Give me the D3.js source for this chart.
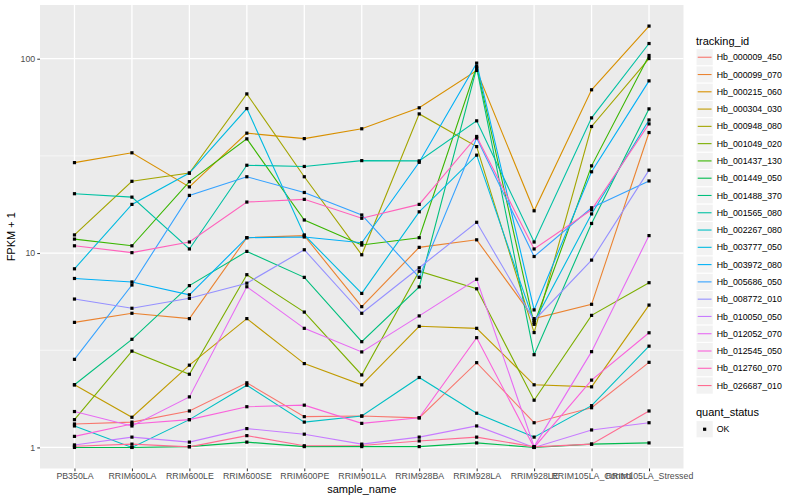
<!DOCTYPE html>
<html>
<head>
<meta charset="utf-8">
<script src="https://cdn.jsdelivr.net/npm/d3@7"></script>
<style>
  body { margin: 0; background: #fff; }
  text { font-family: "Liberation Sans", Arial, sans-serif; }
</style>
</head>
<body>
<svg id="chart" width="800" height="500"></svg>
<script>
'use strict';

var sampleNames = ["PB350LA", "RRIM600LA", "RRIM600LE", "RRIM600SE", "RRIM600PE", "RRIM901LA",
  "RRIM928BA", "RRIM928LA", "RRIM928LE", "RRIM105LA_Control", "RRIM105LA_Stressed"];

var trackingIds = ["Hb_000009_450", "Hb_000099_070", "Hb_000215_060", "Hb_000304_030", "Hb_000948_080",
  "Hb_001049_020", "Hb_001437_130", "Hb_001449_050", "Hb_001488_370", "Hb_001565_080",
  "Hb_002267_080", "Hb_003777_050", "Hb_003972_080", "Hb_005686_050", "Hb_008772_010",
  "Hb_010050_050", "Hb_012052_070", "Hb_012545_050", "Hb_012760_070", "Hb_026687_010"];

// FPKM per sample (plotted as FPKM + 1)
var hb_000009_450 = [0.32, 0.35, 0.54, 1.15, 0.44, 0.45, 0.42, 1.73, 0.34, 0.60, 1.74];
var hb_000099_070 = [3.4, 3.9, 3.6, 11.0, 11.3, 4.3, 9.7, 10.7, 3.6, 4.45, 40.7];
var hb_000215_060 = [28.2, 31.8, 20.9, 40.4, 37.8, 42.6, 54.9, 86.0, 15.5, 68.2, 146.2];
var hb_000304_030 = [1.1, 0.43, 1.65, 3.6, 1.7, 1.1, 3.2, 3.1, 1.1, 1.05, 4.4];
var hb_000948_080 = [11.4, 22.4, 24.8, 64.9, 23.7, 8.8, 51.0, 34.3, 2.9, 43.8, 99.2];
var hb_001049_020 = [0.39, 2.13, 1.38, 6.74, 3.97, 1.36, 7.06, 5.55, 0.75, 3.78, 6.04];
var hb_001437_130 = [10.8, 9.9, 22.3, 37.7, 13.8, 10.0, 11.0, 90.2, 3.3, 27.1, 102.9];
var hb_001449_050 = [0, 0, 0.01, 0.065, 0.01, 0.01, 0.01, 0.055, 0, 0.04, 0.055];
var hb_001488_370 = [1.1, 2.6, 5.8, 9.2, 6.5, 2.5, 5.7, 88.8, 2.0, 13.2, 54.2];
var hb_001565_080 = [19.2, 18.4, 9.5, 27.3, 26.9, 28.9, 28.8, 46.9, 10.4, 48.6, 118.7];
var hb_002267_080 = [0.29, 0.0, 0.39, 1.09, 0.35, 0.45, 1.29, 0.50, 0.13, 0.64, 2.32];
var hb_003777_050 = [7.3, 16.8, 24.8, 54.4, 11.4, 5.2, 15.3, 30.9, 3.4, 14.9, 47.4];
var hb_003972_080 = [6.4, 6.1, 5.1, 11.0, 11.1, 10.3, 28.3, 93.9, 4.1, 25.2, 75.9];
var hb_005686_050 = [1.84, 5.85, 18.8, 23.7, 19.5, 14.7, 6.5, 38.1, 8.6, 16.1, 22.5];
var hb_008772_010 = [4.8, 4.2, 4.85, 6.0, 9.4, 3.9, 7.4, 13.4, 3.5, 8.2, 25.7];
var hb_010050_050 = [0.03, 0.13, 0.065, 0.25, 0.17, 0.04, 0.13, 0.29, 0.0, 0.23, 0.34];
var hb_012052_070 = [0.53, 0.29, 0.82, 5.71, 3.10, 2.10, 3.75, 6.33, 0.01, 2.11, 11.3];
var hb_012545_050 = [0.14, 0.32, 0.39, 0.62, 0.65, 0.33, 0.42, 2.67, 0.0, 1.22, 2.89];
var hb_012760_070 = [9.9, 9.05, 10.4, 17.3, 17.9, 14.1, 16.8, 38.8, 9.5, 15.7, 45.2];
var hb_026687_010 = [0.015, 0.04, 0.007, 0.15, 0.02, 0.024, 0.08, 0.13, 0.007, 0.04, 0.54];

var fpkmValues = [hb_000009_450, hb_000099_070, hb_000215_060, hb_000304_030, hb_000948_080,
  hb_001049_020, hb_001437_130, hb_001449_050, hb_001488_370, hb_001565_080,
  hb_002267_080, hb_003777_050, hb_003972_080, hb_005686_050, hb_008772_010,
  hb_010050_050, hb_012052_070, hb_012545_050, hb_012760_070, hb_026687_010];

var quantStatus = ["OK"];
var yBreaks = [1, 10, 100];
var yMinorBreaks = [Math.pow(10, 0.5), Math.pow(10, 1.5)];

// ggplot hue palette for 20 levels
var hueColors = ["#F8766D", "#EA8331", "#D89000", "#C09B00", "#A3A500", "#7CAE00", "#39B600",
  "#00BB4E", "#00BF7D", "#00C1A3", "#00BFC4", "#00BAE0", "#00B0F6", "#35A2FF", "#9590FF",
  "#C77CFF", "#E76BF3", "#FA62DB", "#FF62BC", "#FF6C91"];

var svg = d3.select('#chart');
var panel = {left: 40, right: 683.5, top: 5, bottom: 468.5};

// build rows from the arrays
var series = trackingIds.map(function (id, i) {
  return {
    id: id,
    color: hueColors[i],
    values: fpkmValues[i].map(function (v, j) { return {sample: sampleNames[j], y: v + 1}; })
  };
});

var x = d3.scalePoint().domain(sampleNames).range([panel.left, panel.right]).padding(0.6);

// log scale with 5% expansion like ggplot
var allY = [];
series.forEach(function (s) { s.values.forEach(function (d) { allY.push(d.y); }); });
var lo = Math.log10(d3.min(allY)), hi = Math.log10(d3.max(allY));
var pad = (hi - lo) * 0.05;
var y = d3.scaleLog().domain([Math.pow(10, lo - pad), Math.pow(10, hi + pad)])
  .range([panel.bottom, panel.top]);

// panel background + grid
svg.append('rect')
  .attr('x', panel.left).attr('y', panel.top)
  .attr('width', panel.right - panel.left).attr('height', panel.bottom - panel.top)
  .attr('fill', '#EBEBEB');

svg.append('g').selectAll('line').data(yMinorBreaks).enter().append('line')
  .attr('x1', panel.left).attr('x2', panel.right)
  .attr('y1', function (d) { return y(d); }).attr('y2', function (d) { return y(d); })
  .attr('stroke', '#fff').attr('stroke-width', 0.6);

svg.append('g').selectAll('line').data(yBreaks).enter().append('line')
  .attr('x1', panel.left).attr('x2', panel.right)
  .attr('y1', function (d) { return y(d); }).attr('y2', function (d) { return y(d); })
  .attr('stroke', '#fff').attr('stroke-width', 1.3);

svg.append('g').selectAll('line').data(sampleNames).enter().append('line')
  .attr('y1', panel.top).attr('y2', panel.bottom)
  .attr('x1', function (d) { return x(d); }).attr('x2', function (d) { return x(d); })
  .attr('stroke', '#fff').attr('stroke-width', 1.3);

// lines
var line = d3.line()
  .x(function (d) { return x(d.sample); })
  .y(function (d) { return y(d.y); });

svg.append('g').selectAll('path').data(series).enter().append('path')
  .attr('d', function (d) { return line(d.values); })
  .attr('fill', 'none')
  .attr('stroke', function (d) { return d.color; })
  .attr('stroke-width', 1.1);

// points
var pts = [];
series.forEach(function (s) { s.values.forEach(function (d) { pts.push(d); }); });
var ps = 3.2;
svg.append('g').selectAll('rect').data(pts).enter().append('rect')
  .attr('x', function (d) { return x(d.sample) - ps / 2; })
  .attr('y', function (d) { return y(d.y) - ps / 2; })
  .attr('width', ps).attr('height', ps)
  .attr('fill', '#000');

// axes
var xAxis = svg.append('g')
  .attr('transform', 'translate(0,' + panel.bottom + ')')
  .call(d3.axisBottom(x).tickSize(2.75).tickPadding(2));
var yAxis = svg.append('g')
  .attr('transform', 'translate(' + panel.left + ',0)')
  .call(d3.axisLeft(y).tickValues(yBreaks).tickFormat(d3.format('d')).tickSize(2.75).tickPadding(2));

[xAxis, yAxis].forEach(function (a) {
  a.select('.domain').remove();
  a.selectAll('.tick line').attr('stroke', '#333');
  a.selectAll('.tick text').attr('fill', '#4D4D4D')
    .style('font-size', '8.8px').style('font-family', '"Liberation Sans", Arial, sans-serif');
});

svg.append('text')
  .attr('x', (panel.left + panel.right) / 2).attr('y', 493)
  .attr('text-anchor', 'middle')
  .style('font-size', '11px')
  .text('sample_name');

svg.append('text')
  .attr('transform', 'translate(15,' + (panel.top + panel.bottom) / 2 + ') rotate(-90)')
  .attr('text-anchor', 'middle')
  .style('font-size', '11px')
  .text('FPKM + 1');

// legend: tracking_id
var keySize = 17.28, legX = 696, legY = 48.6;
var legend = svg.append('g');
legend.append('text').attr('x', legX).attr('y', 44.5).style('font-size', '11px').text('tracking_id');

var items = legend.selectAll('g.item').data(series).enter().append('g')
  .attr('class', 'item')
  .attr('transform', function (d, i) { return 'translate(' + legX + ',' + (legY + i * keySize) + ')'; });

items.append('rect').attr('width', keySize).attr('height', keySize)
  .attr('fill', '#F2F2F2').attr('stroke', '#fff').attr('stroke-width', 1);
items.append('line')
  .attr('x1', keySize * 0.1).attr('x2', keySize * 0.9)
  .attr('y1', keySize / 2).attr('y2', keySize / 2)
  .attr('stroke', function (d) { return d.color; }).attr('stroke-width', 1.1);
items.append('text')
  .attr('x', keySize + 3.5).attr('y', keySize / 2 + 3.1)
  .style('font-size', '8.8px')
  .text(function (d) { return d.id; });

// legend: quant_status
var q = svg.append('g');
q.append('text').attr('x', legX).attr('y', 416.4).style('font-size', '11px').text('quant_status');
var qItems = q.selectAll('g.q').data(quantStatus).enter().append('g')
  .attr('transform', function (d, i) { return 'translate(' + legX + ',' + (420.6 + i * keySize) + ')'; });
qItems.append('rect').attr('width', keySize).attr('height', keySize)
  .attr('fill', '#F2F2F2').attr('stroke', '#fff');
qItems.append('rect')
  .attr('x', keySize / 2 - ps / 2).attr('y', keySize / 2 - ps / 2)
  .attr('width', ps).attr('height', ps).attr('fill', '#000');
qItems.append('text')
  .attr('x', keySize + 3.5).attr('y', keySize / 2 + 3.1)
  .style('font-size', '8.8px')
  .text(function (d) { return d; });
</script>
</body>
</html>
